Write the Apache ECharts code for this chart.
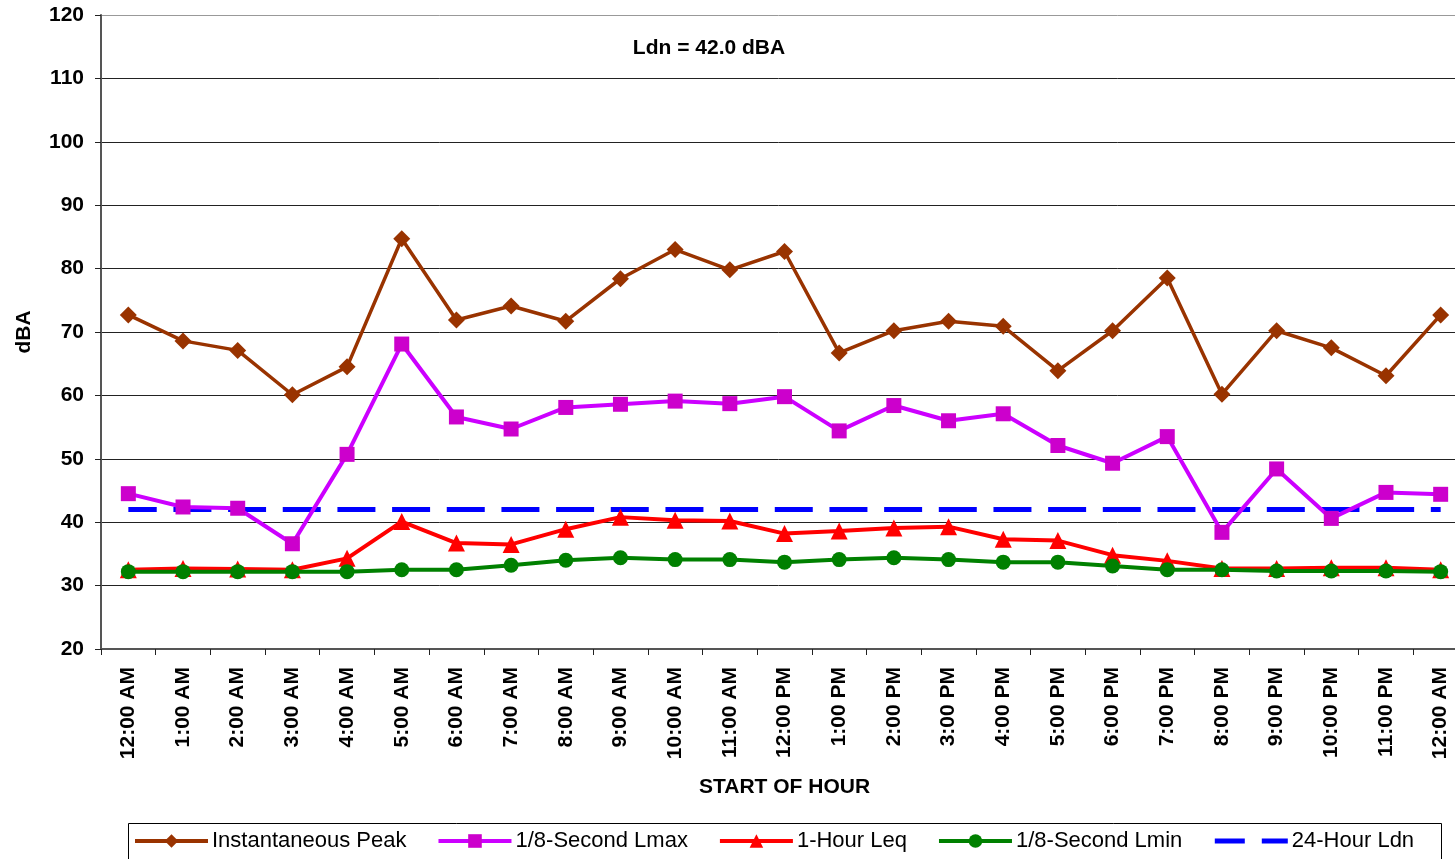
<!DOCTYPE html>
<html>
<head>
<meta charset="utf-8">
<style>
  html, body { margin: 0; padding: 0; background: #fff; }
  #chart { width: 1455px; height: 859px; }
</style>
<script src="https://cdn.jsdelivr.net/npm/echarts@6/dist/echarts.min.js"></script>
</head>
<body>
<div id="chart"></div>
<script>
const categories = ['12:00 AM','1:00 AM','2:00 AM','3:00 AM','4:00 AM','5:00 AM','6:00 AM','7:00 AM','8:00 AM','9:00 AM','10:00 AM','11:00 AM','12:00 PM','1:00 PM','2:00 PM','3:00 PM','4:00 PM','5:00 PM','6:00 PM','7:00 PM','8:00 PM','9:00 PM','10:00 PM','11:00 PM','12:00 AM'];
const peak = [72.7, 68.6, 67.1, 60.1, 64.5, 84.7, 71.9, 74.1, 71.7, 78.4, 83.0, 79.8, 82.7, 66.7, 70.2, 71.7, 70.9, 63.9, 70.2, 78.5, 60.2, 70.2, 67.5, 63.1, 72.7];
const lmax = [44.5, 42.4, 42.2, 36.6, 50.7, 68.1, 56.6, 54.7, 58.1, 58.6, 59.1, 58.7, 59.8, 54.4, 58.4, 56.0, 57.1, 52.1, 49.3, 53.5, 38.4, 48.4, 40.6, 44.7, 44.4];
const leq = [32.5, 32.7, 32.6, 32.5, 34.3, 40.1, 36.7, 36.5, 38.9, 40.8, 40.3, 40.2, 38.2, 38.6, 39.1, 39.3, 37.3, 37.1, 34.8, 33.9, 32.7, 32.7, 32.8, 32.8, 32.5];
const lmin = [32.2, 32.2, 32.2, 32.2, 32.2, 32.5, 32.5, 33.2, 34.0, 34.4, 34.1, 34.1, 33.7, 34.1, 34.4, 34.1, 33.7, 33.7, 33.1, 32.5, 32.5, 32.3, 32.3, 32.3, 32.2];
const ldn = [42.0, 42.0, 42.0, 42.0, 42.0, 42.0, 42.0, 42.0, 42.0, 42.0, 42.0, 42.0, 42.0, 42.0, 42.0, 42.0, 42.0, 42.0, 42.0, 42.0, 42.0, 42.0, 42.0, 42.0, 42.0];
const yTicks = { min: 20, max: 120, interval: 10 };
const titleText = 'Ldn = 42.0 dBA';
const names = ['Instantaneous Peak', '1/8-Second Lmax', '1-Hour Leq', '1/8-Second Lmin', '24-Hour Ldn'];

const FONT = '"Liberation Sans", Arial, sans-serif';
const chart = echarts.init(document.getElementById('chart'), null, { renderer: 'canvas' });

const option = {
  animation: false,
  backgroundColor: '#fff',
  textStyle: { fontFamily: FONT, color: '#000' },
  grid: { left: 101, top: 15, width: 1367, height: 634, containLabel: false, outerBoundsMode: 'none' },
  legend: {
    data: [
      { name: names[0], lineStyle: { width: 4 } },
      { name: names[1], lineStyle: { width: 4 } },
      { name: names[2], lineStyle: { width: 4 } },
      { name: names[3], lineStyle: { width: 4 } },
      { name: names[4], lineStyle: { width: 5, type: [30, 17], dashOffset: 0 }, itemStyle: { opacity: 0 } }
    ],
    left: 133,
    top: 830,
    padding: 0,
    itemWidth: 73,
    itemHeight: 17,
    itemGap: 30,
    textStyle: { fontFamily: FONT, fontSize: 22, color: '#000', padding: [0, 0, 0, -1] }
  },
  graphic: [
    {
      type: 'rect',
      shape: { x: 128.5, y: 823.5, width: 1313, height: 60 },
      style: { fill: 'none', stroke: '#000', lineWidth: 1 },
      silent: true
    },
    {
      type: 'text',
      x: 709, y: 48,
      style: {
        text: titleText,
        fontFamily: FONT, fontSize: 21, fontWeight: 'bold', fill: '#000',
        textAlign: 'center', textVerticalAlign: 'middle'
      },
      silent: true
    }
  ],
  xAxis: {
    type: 'category',
    data: categories,
    boundaryGap: true,
    name: 'START OF HOUR',
    nameLocation: 'middle',
    nameGap: 128,
    nameTextStyle: { fontFamily: FONT, fontSize: 21, fontWeight: 'bold', color: '#000' },
    axisLine: { show: true, lineStyle: { color: '#555', width: 2 } },
    axisTick: { show: true, alignWithLabel: false, interval: 0, length: 6, lineStyle: { color: '#222', width: 1 } },
    axisLabel: {
      interval: 0, rotate: 90, margin: 18,
      fontFamily: FONT, fontSize: 21, fontWeight: 'bold', color: '#000'
    },
    splitLine: { show: false }
  },
  yAxis: {
    type: 'value',
    min: yTicks.min, max: yTicks.max, interval: yTicks.interval,
    name: 'dBA',
    nameLocation: 'middle',
    nameRotate: 90,
    nameGap: 66,
    nameTextStyle: { fontFamily: FONT, fontSize: 21, fontWeight: 'bold', color: '#000' },
    axisLine: { show: true, lineStyle: { color: '#555', width: 2 } },
    axisTick: { show: true, length: 6, inside: false, lineStyle: { color: '#222', width: 1 } },
    axisLabel: { margin: 17, fontFamily: FONT, fontSize: 21, fontWeight: 'bold', color: '#000' },
    splitLine: {
      show: true,
      lineStyle: { color: ['#222','#222','#222','#222','#222','#222','#222','#222','#222','#222','#999'], width: 1 }
    }
  },
  series: [
    {
      name: names[4], type: 'line', data: ldn, z: 1,
      symbol: 'none', showSymbol: false,
      lineStyle: { color: '#0000FF', width: 5, type: [38, 16.67], dashOffset: 9.6 },
      itemStyle: { color: '#0000FF' }
    },
    {
      name: names[0], type: 'line', data: peak, z: 2,
      symbol: 'diamond', symbolSize: 17,
      lineStyle: { color: '#993300', width: 3.5 },
      itemStyle: { color: '#993300' }
    },
    {
      name: names[1], type: 'line', data: lmax, z: 3,
      symbol: 'rect', symbolSize: 15,
      lineStyle: { color: '#CC00FF', width: 4 },
      itemStyle: { color: '#CC00CC' }
    },
    {
      name: names[2], type: 'line', data: leq, z: 4,
      symbol: 'triangle', symbolSize: 17,
      lineStyle: { color: '#FF0000', width: 4 },
      itemStyle: { color: '#FF0000' }
    },
    {
      name: names[3], type: 'line', data: lmin, z: 5,
      symbol: 'circle', symbolSize: 15,
      lineStyle: { color: '#008000', width: 4 },
      itemStyle: { color: '#008000' }
    }
  ]
};
chart.setOption(option);
</script>
</body>
</html>
